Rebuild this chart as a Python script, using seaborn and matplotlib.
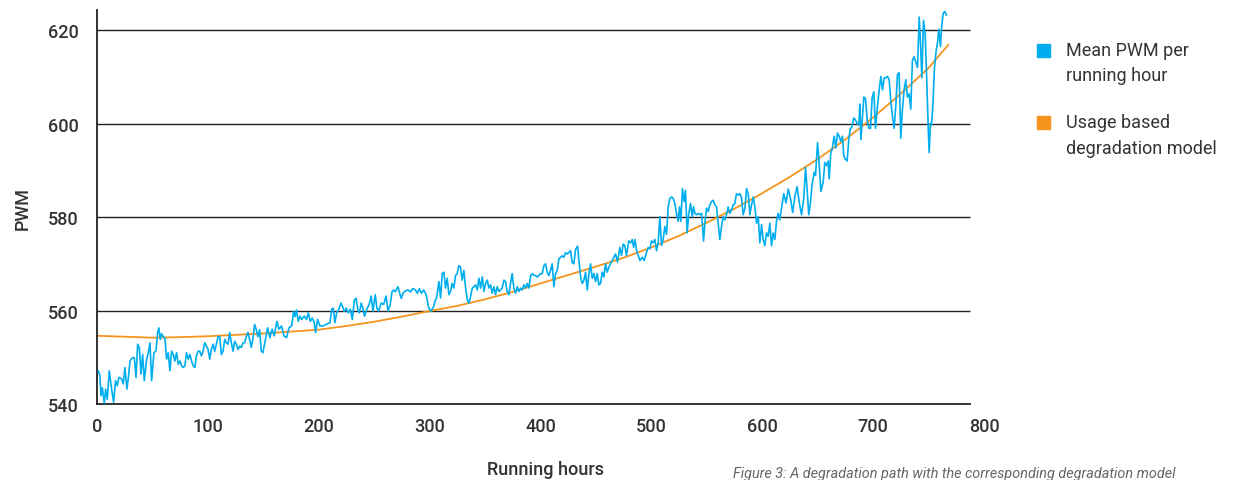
import matplotlib
matplotlib.use("Agg")
import matplotlib.pyplot as plt
import seaborn as sns
from matplotlib.patches import Rectangle

# mean PWM per running hour
hours = [
    1.2, 2.7, 3.6, 4.8, 6.6, 7.8, 9.3, 11.1, 13.2, 15.0,
    16.8, 18.3, 19.8, 22.2, 23.7, 25.2, 27.0, 28.2, 29.8, 31.9,
    33.7, 35.2, 36.7, 38.2, 39.7, 41.2, 42.7, 44.8, 46.3, 47.8,
    49.3, 51.4, 53.2, 54.7, 55.9, 57.1, 58.3, 59.8, 61.3, 62.8,
    64.3, 65.8, 67.3, 68.8, 70.3, 71.8, 73.3, 74.8, 76.3, 77.8,
    79.3, 80.8, 82.3, 83.8, 85.3, 86.8, 88.3, 89.7, 91.2, 92.7,
    94.2, 95.7, 97.2, 98.7, 100.2, 101.7, 103.2, 104.7, 106.2, 107.7,
    109.2, 110.7, 112.2, 113.7, 115.2, 116.7, 118.2, 119.7, 121.2, 122.7,
    124.2, 125.7, 127.2, 128.7, 130.2, 131.7, 133.2, 134.7, 136.2, 137.7,
    139.2, 140.7, 142.2, 143.7, 145.2, 146.7, 148.2, 149.7,
    153.9, 155.9, 158.0, 159.9, 162.3, 164.1, 166.5, 168.6, 171.0, 173.2,
    175.6, 177.4, 178.6, 180.0, 181.5, 183.0, 184.6, 187.0, 189.0, 190.6,
    192.4, 194.2, 196.0, 197.2, 199.0, 201.1, 204.1, 207.2, 210.1, 211.7,
    213.1, 214.6, 216.2, 218.2, 220.0, 221.5, 223.0, 224.9, 226.7, 228.5,
    230.3, 232.2, 233.7, 235.2, 236.7, 238.3, 239.8, 241.3, 243.4, 245.5,
    247.3, 248.9, 251.0, 252.5, 254.0, 256.4, 258.6, 260.7, 262.5, 264.5,
    266.1, 267.6, 269.1, 271.5, 273.0, 274.5, 276.0, 278.2, 280.6, 282.7,
    284.8, 287.2, 289.0, 290.8, 292.6, 294.7, 296.9, 299.3, 301.4, 303.8,
    304.8, 306.3, 308.4, 309.9, 311.4, 312.9, 314.4, 315.9, 317.4, 318.9,
    320.4, 321.9, 323.4, 324.9, 326.4, 327.9, 329.4, 330.9, 332.5, 334.0,
    335.5, 337.0, 338.5, 340.0, 341.5, 343.0, 344.5, 346.0, 347.5, 349.0,
    350.5, 352.0, 353.5, 355.0, 356.5, 358.0, 359.5, 361.0, 362.5, 364.0,
    365.5, 367.0, 368.5, 370.0, 371.5, 373.0, 374.5, 376.0, 377.6, 379.1,
    380.6, 382.1, 383.6, 385.1, 386.6, 388.1, 389.6, 391.1, 392.6, 394.1,
    395.6, 397.1, 398.6, 400.1, 401.6, 403.1, 404.6, 406.1, 407.6, 409.1,
    410.6, 412.1, 413.6, 415.1, 416.6, 418.1, 419.6, 421.1, 422.6, 424.1,
    425.6, 427.1, 428.6, 430.1, 431.7, 433.5, 434.7, 436.2, 437.7, 439.2,
    440.7, 442.2, 443.7, 445.2, 446.7, 448.2, 449.7, 451.2, 452.7, 454.2,
    455.7, 457.2, 458.7, 460.2, 461.7,
    465.6, 467.7, 469.5, 471.6, 473.1, 474.6, 476.1, 477.6, 479.7, 481.5,
    482.8, 484.0, 485.2, 486.7, 488.2, 489.7, 491.8, 493.6, 495.7, 497.2,
    498.7, 500.2, 501.7, 503.2, 504.7, 506.2, 507.7, 509.2, 510.7, 512.2,
    513.7, 515.2, 516.7, 518.2, 519.7, 521.2, 522.7, 524.2, 525.4, 526.6,
    528.1, 529.6, 530.8, 532.3, 533.8, 535.4, 536.9, 538.1, 539.3, 540.8,
    542.3, 543.8, 545.3, 547.1, 548.3, 549.8, 551.3, 552.8, 554.3, 555.8,
    557.3, 558.8, 560.3, 561.8, 563.3, 564.8, 566.3, 567.8, 569.3, 570.8,
    572.3, 573.8, 575.3, 576.8, 578.3, 579.8, 581.3, 582.8, 584.4, 585.9,
    587.4, 588.9, 590.4, 591.9, 593.4, 594.9, 596.4, 597.9, 599.4, 600.9,
    602.4, 603.9, 605.4, 606.9, 608.4, 609.9, 611.4, 612.9, 614.4, 615.9,
    617.5, 619.5, 621.5, 623.5, 625.5, 627.5, 629.5, 631.5, 633.5, 635.5,
    637.5, 639.1, 640.5, 642.0, 643.5, 645.0,
    646.9, 648.1, 649.9, 651.1, 652.9, 655.0, 656.5, 658.0, 659.5, 660.4,
    661.9, 663.1, 664.9, 666.4, 667.9, 669.4, 670.9, 672.4, 673.6, 675.1,
    676.6, 678.1, 679.3, 681.1, 682.6, 684.1, 685.6, 687.2, 688.1, 689.0,
    690.2, 691.7, 693.2, 694.7, 696.2, 697.7, 699.2, 700.7, 702.2, 704.0,
    705.5, 707.0, 708.5, 710.0, 711.5, 713.0, 714.5, 716.0, 717.5, 719.0,
    720.5, 722.0, 723.5, 725.0, 726.5, 728.0, 729.5, 731.0, 732.5, 734.0,
    735.5, 737.0, 738.6, 740.1, 741.6, 742.8, 744.0, 745.5, 747.0, 748.5,
    749.7, 750.6, 751.8, 752.7, 753.9, 755.4, 756.9, 758.1, 759.3, 760.8,
    761.7, 763.2, 764.7, 766.2,
]
pwm_mean = [
    547.1, 546.0, 541.8, 543.5, 540.2, 543.2, 541.0, 547.1, 543.2, 540.4,
    545.0, 543.9, 545.7, 545.4, 544.3, 547.8, 543.2, 545.4, 549.2, 549.9,
    549.9, 545.7, 552.8, 552.1, 546.4, 550.6, 545.0, 549.6, 551.0, 553.1,
    545.0, 551.0, 551.3, 555.3, 556.3, 553.8, 555.0, 554.4, 554.0, 549.6,
    551.0, 547.1, 551.3, 550.6, 549.2, 551.0, 548.5, 549.2, 548.2, 547.8,
    548.2, 551.0, 549.6, 550.6, 549.2, 548.2, 547.8, 550.3, 551.3, 551.3,
    550.3, 551.3, 553.1, 552.4, 551.7, 549.6, 551.7, 552.8, 551.3, 552.8,
    554.4, 554.4, 550.6, 551.3, 553.8, 553.1, 552.8, 555.3, 553.1, 551.3,
    553.4, 552.8, 551.7, 552.4, 552.1, 553.1, 553.1, 554.4, 555.3, 553.8,
    552.1, 554.1, 557.0, 555.9, 554.4, 555.9, 551.3, 551.0,
    556.3, 554.2, 556.0, 554.6, 557.7, 556.0, 556.7, 554.6, 554.2, 556.3,
    556.7, 559.8, 558.7, 560.1, 557.7, 558.8, 558.1, 558.8, 558.1, 559.5,
    557.7, 558.4, 557.4, 555.3, 558.1, 556.7, 556.7, 557.1, 557.4, 560.3,
    560.5, 557.4, 559.5, 560.3, 561.6, 560.9, 559.8, 560.5, 559.5, 560.3,
    558.1, 562.3, 562.6, 560.3, 559.5, 561.6, 560.5, 558.8, 560.3, 561.3,
    563.1, 559.9, 563.4, 560.5, 559.9, 561.6, 561.3, 563.1, 559.9, 561.3,
    564.0, 564.4, 564.0, 565.1, 563.7, 562.6, 563.7, 564.2, 564.4, 564.0,
    564.7, 564.4, 563.7, 564.7, 563.7, 564.4, 563.4, 560.5, 559.9, 560.9,
    562.0, 562.7, 566.2, 562.7, 567.9, 568.2, 564.8, 566.9, 563.4, 564.1,
    565.8, 564.8, 567.5, 567.9, 569.6, 569.3, 566.5, 568.6, 564.8, 562.3,
    561.6, 563.0, 564.8, 565.1, 565.5, 564.4, 566.9, 564.8, 567.2, 564.1,
    565.8, 566.5, 564.8, 565.5, 563.7, 565.1, 563.4, 565.1, 564.1, 564.4,
    564.8, 566.5, 566.2, 564.1, 563.4, 565.8, 567.9, 564.8, 563.7, 565.1,
    564.1, 564.8, 564.4, 565.5, 564.8, 565.8, 564.8, 567.5, 567.9, 567.5,
    567.5, 567.2, 567.5, 567.9, 567.9, 569.6, 570.0, 568.2, 567.5, 568.6,
    570.0, 565.1, 567.9, 568.6, 571.0, 571.4, 571.7, 571.4, 572.4, 572.1,
    572.4, 572.8, 570.3, 570.0, 573.1, 573.8, 570.7, 567.2, 565.8, 566.5,
    568.2, 564.4, 567.9, 570.0, 566.9, 567.9, 566.2, 567.9, 565.5, 565.8,
    568.2, 567.2, 570.0, 568.2, 569.3,
    571.1, 572.1, 570.4, 573.5, 571.8, 574.2, 573.9, 571.8, 574.9, 574.5,
    575.2, 573.5, 575.2, 572.8, 571.8, 570.7, 571.4, 570.7, 572.5, 573.5,
    573.2, 574.9, 574.5, 575.2, 572.8, 574.5, 580.1, 573.9, 575.2, 578.0,
    576.3, 582.2, 584.0, 584.3, 584.0, 582.9, 580.8, 579.1, 582.2, 579.1,
    586.1, 583.3, 585.7, 576.6, 580.8, 582.9, 580.1, 582.2, 580.8, 580.5,
    580.8, 580.5, 580.8, 574.9, 578.7, 581.9, 581.2, 582.6, 583.3, 583.6,
    582.6, 582.2, 578.7, 575.2, 578.0, 580.1, 579.4, 580.5, 582.2, 580.8,
    581.5, 582.6, 582.9, 585.0, 584.7, 585.0, 584.3, 580.5, 581.9, 586.1,
    585.0, 580.5, 582.6, 584.3, 582.2, 578.7, 580.1, 574.5, 578.4, 575.2,
    573.9, 576.6, 575.9, 578.7, 573.9, 576.6, 575.2, 579.1, 580.8, 579.4,
    582.0, 585.0, 583.0, 586.0, 584.0, 581.0, 584.5, 586.5, 583.0, 580.5,
    584.0, 590.6, 586.0, 580.5, 583.0, 587.0,
    589.6, 588.9, 595.9, 592.4, 585.5, 587.5, 591.7, 591.0, 592.0, 588.2,
    593.8, 594.5, 597.3, 594.8, 598.0, 597.3, 596.2, 597.3, 593.1, 592.4,
    592.0, 596.6, 598.7, 599.4, 601.2, 600.8, 600.1, 599.7, 604.2, 596.6,
    600.8, 605.7, 605.3, 600.8, 599.0, 599.0, 605.7, 606.8, 599.0, 603.8,
    607.2, 610.1, 607.2, 609.8, 609.8, 610.1, 609.4, 604.9, 601.6, 599.0,
    603.8, 610.5, 610.9, 596.9, 603.1, 607.2, 609.4, 605.7, 606.4, 603.1,
    613.5, 614.3, 613.1, 612.0, 622.8, 617.2, 609.8, 622.1, 619.1, 608.7,
    599.4, 593.8, 600.1, 599.7, 603.8, 612.0, 615.7, 617.2, 620.2, 616.5,
    620.2, 623.6, 624.0, 623.2,
]

# usage based degradation model
model_hours = [0, 25, 50, 75, 100, 125, 150, 175, 200, 225, 250, 275, 300,
               325, 350, 375, 400, 425, 450, 475, 500, 525, 550, 575, 600,
               625, 650, 675, 700, 725, 750, 768]
model_pwm = [554.6, 554.4, 554.2, 554.3, 554.5, 554.8, 555.1, 555.5, 555.9,
             556.7, 557.6, 558.7, 559.9, 561.0, 562.4, 564.0, 565.8, 567.6,
             569.4, 571.3, 573.5, 576.0, 578.8, 581.8, 585.1, 588.6, 592.4,
             596.6, 601.3, 606.4, 611.9, 616.9]

y_ticks = [540, 560, 580, 600, 620]
x_ticks = [0, 100, 200, 300, 400, 500, 600, 700, 800]

blue = "#00aeef"
orange = "#f7941d"
txt = "#333333"

sns.set_theme(style="white")
plt.rcParams["font.family"] = ["Roboto", "DejaVu Sans"]

fig = plt.figure(figsize=(12.4, 4.81), dpi=100)
ax = fig.add_axes([0.0782, 0.158, 0.7153, 0.819])

ax.hlines(y_ticks[1:], 0, 787, color="#222222", lw=1.0, zorder=1)
sns.lineplot(x=model_hours, y=model_pwm, ax=ax, color=orange, lw=1.3, zorder=2)
sns.lineplot(x=hours, y=pwm_mean, ax=ax, color=blue, lw=1.2, zorder=3)

ax.set_xlim(0, 800)
ax.set_ylim(540, 624.3)
ax.set_xticks(x_ticks)
ax.set_yticks(y_ticks)
for s in ["top", "right"]:
    ax.spines[s].set_visible(False)
for s in ["left", "bottom"]:
    ax.spines[s].set_color("#222222")
    ax.spines[s].set_linewidth(1.3)
ax.spines["bottom"].set_bounds(0, 787)
ax.tick_params(axis="y", length=8, width=1.0, color="#222222", pad=5,
               labelsize=13, labelcolor=txt)
ax.tick_params(axis="x", length=0, pad=9, labelsize=13, labelcolor=txt)
for lab in ax.get_xticklabels() + ax.get_yticklabels():
    lab.set_fontweight("medium")

ax.set_ylabel("PWM", fontsize=13, color=txt, fontweight="medium", labelpad=12)
ax.set_xlabel("")
fig.text(0.44, 0.022, "Running hours", fontsize=13, color=txt,
         fontweight="medium", ha="center", va="center")
fig.text(0.591, 0.014, "Figure 3: A degradation path with the corresponding degradation model",
         fontsize=10.4, color="#666666", style="italic", ha="left", va="center")

# legend drawn by hand
for yy, col, line1, line2 in [(0.893, blue, "Mean PWM per", "running hour"),
                              (0.742, orange, "Usage based", "degradation model")]:
    fig.patches.append(Rectangle((0.8365, yy - 0.013), 0.0105, 0.027,
                                 transform=fig.transFigure, color=col))
    fig.text(0.86, yy + 0.002, line1, fontsize=13, color=txt, va="center")
    fig.text(0.86, yy - 0.051, line2, fontsize=13, color=txt, va="center")

fig.savefig("out.png", dpi=100)
